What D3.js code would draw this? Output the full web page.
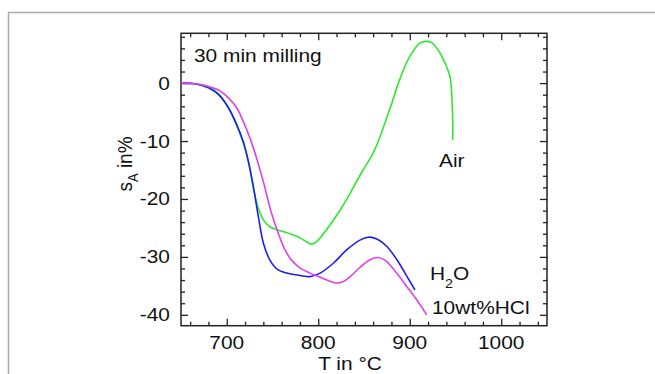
<!DOCTYPE html>
<html>
<head>
<meta charset="utf-8">
<script src="https://cdn.jsdelivr.net/npm/d3@7"></script>
<style>
  html, body { margin: 0; padding: 0; background: #fff; }
  svg { display: block; font-family: "Liberation Sans", Arial, sans-serif; }
</style>
</head>
<body>
<svg id="chart" width="655" height="374"></svg>
<script>
// Shrinkage s_A (%) vs temperature T (°C), 30 min milling
const tAir = [650, 665, 680, 691, 702, 711, 718, 724, 729, 731, 734.5, 740, 747, 755, 765, 776, 784, 793, 798, 809, 824, 835, 838, 849, 860, 869, 878, 889, 900, 911, 918, 924, 933, 940, 944, 946, 947, 947];
const sAir = [0, -0.1, -0.6, -1.8, -4.3, -7.4, -10.3, -13.8, -18, -19.5, -21.6, -23.6, -24.8, -25.3, -25.8, -26.4, -27.1, -27.8, -27.4, -25.3, -21.9, -19.0, -18.1, -15.0, -12.1, -8.6, -4.6, 0.6, 4.6, 6.9, 7.2, 7.0, 5.2, 2.9, 1.1, -2.3, -6.9, -9.8];

const tH2O = [650, 665, 680, 691, 702, 711, 718, 723.6, 729, 734.5, 740, 747, 755, 765.5, 780, 791, 802, 816.5, 831, 845.6, 854.7, 864, 875, 886, 897, 905.7];
const sH2O = [0, -0.1, -0.8, -2.0, -4.3, -7.2, -10.1, -13.5, -17.8, -23.0, -27.6, -30.5, -32.1, -32.8, -33.2, -33.4, -32.8, -31.1, -28.8, -27.1, -26.6, -26.9, -28.2, -30.5, -33.4, -35.7];

const tHCl = [650, 665, 680, 691, 702, 711, 718, 725.4, 732.7, 740, 745.4, 749, 756.3, 763.7, 771, 780, 791, 802, 812.8, 820, 827, 835, 845.6, 856.6, 865.6, 874.8, 885.7, 896.7, 907.6, 918.5];
const sHCl = [0, -0.1, -0.6, -1.2, -2.6, -4.3, -6.6, -9.5, -13.0, -17.0, -20.4, -22.5, -25.9, -28.8, -30.6, -31.9, -32.8, -33.5, -34.2, -34.5, -34.3, -33.4, -31.8, -30.5, -30.1, -30.8, -32.8, -35.1, -37.4, -40.0];

const xTickValues = [700, 800, 900, 1000];
const yTickValues = [0, -10, -20, -30, -40];
const seriesNames = ["Air", "H2O", "10wt%HCl"];
const seriesColors = ["#2ee82e", "#1e1ef0", "#e040e8"];

const svg = d3.select("#chart");
const plotLeft = 181, plotRight = 547, plotTop = 33.3, plotBottom = 325.7;

const x = d3.scaleLinear().domain([650, 1050]).range([plotLeft, plotRight]);
const y = d3.scaleLinear().domain([-41.88, 8.6]).range([plotBottom, plotTop]);

// outer panel border
svg.append("rect")
  .attr("x", 8.5).attr("y", 12.5).attr("width", 700).attr("height", 400)
  .attr("fill", "none").attr("stroke", "#ababab").attr("stroke-width", 1.5);

// axes with inward ticks on all four sides
const minorX = d3.range(660, 1050, 20).filter(v => v % 100 !== 0);
const minorY = d3.range(-40, 9, 2).filter(v => v % 10 !== 0);

function tickAxis(axisFn, scale, values, size) {
  return axisFn(scale).tickValues(values).tickSize(size).tickFormat("");
}
const g = svg.append("g").attr("class", "axes");
[[d3.axisBottom, plotBottom], [d3.axisTop, plotTop]].forEach(([fn, pos]) => {
  g.append("g").attr("transform", `translate(0,${pos})`).call(tickAxis(fn, x, minorX, -4));
  g.append("g").attr("transform", `translate(0,${pos})`).call(tickAxis(fn, x, xTickValues, -7));
});
[[d3.axisLeft, plotLeft], [d3.axisRight, plotRight]].forEach(([fn, pos]) => {
  g.append("g").attr("transform", `translate(${pos},0)`).call(tickAxis(fn, y, minorY, -4));
  g.append("g").attr("transform", `translate(${pos},0)`).call(tickAxis(fn, y, yTickValues, -7));
});
g.selectAll(".domain").remove();
g.selectAll("line").attr("stroke", "#222").attr("stroke-width", 1.3);

svg.append("rect")
  .attr("x", plotLeft).attr("y", plotTop)
  .attr("width", plotRight - plotLeft).attr("height", plotBottom - plotTop)
  .attr("fill", "none").attr("stroke", "#222").attr("stroke-width", 1.5);

// text helper: slightly wide glyphs
function label(px, py, txt, anchor) {
  return svg.append("text")
    .attr("transform", `translate(${px},${py}) scale(1.1,1)`)
    .attr("text-anchor", anchor || "start")
    .attr("font-size", 19).attr("fill", "#111").text(txt);
}

xTickValues.forEach(v => label(x(v), 349, v, "middle"));
yTickValues.forEach(v => label(170, y(v) + 6.5, v, "end"));

label(350, 370, "T in °C", "middle");
label(194, 62, "30 min milling");

// y-axis title: s_A in%
const yt = svg.append("text")
  .attr("transform", "translate(132,164) rotate(-90) scale(1,1.1)")
  .attr("text-anchor", "middle").attr("font-size", 19).attr("fill", "#111");
yt.append("tspan").text("s");
yt.append("tspan").attr("font-size", 13).attr("dy", 5).text("A");
yt.append("tspan").attr("dy", -5).text(" in%");

// curves
const line = d3.line().x(d => x(d[0])).y(d => y(d[1])).curve(d3.curveCatmullRom.alpha(0.5));
const series = [
  [tAir, sAir],
  [tH2O, sH2O],
  [tHCl, sHCl]
];
const plot = svg.append("g");
series.forEach(([ts, ss], i) => {
  plot.append("path")
    .datum(ts.map((t, k) => [t, ss[k]]))
    .attr("fill", "none")
    .attr("stroke", seriesColors[i])
    .attr("stroke-width", 1.6)
    .attr("d", line);
});

// series labels
label(439, 167, seriesNames[0]);
const h = svg.append("text")
  .attr("transform", "translate(430,280) scale(1.1,1)")
  .attr("font-size", 19).attr("fill", "#111");
h.append("tspan").text("H");
h.append("tspan").attr("font-size", 13).attr("dy", 8).text("2");
h.append("tspan").attr("dy", -8).text("O");
label(432, 314, seriesNames[2]);
</script>
</body>
</html>
